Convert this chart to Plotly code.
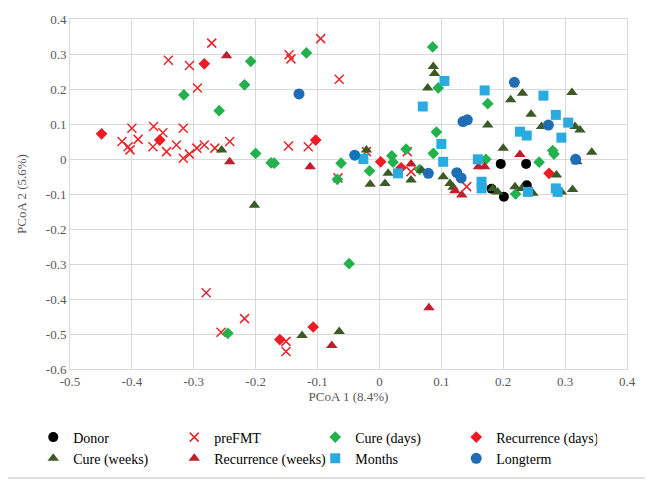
import plotly.graph_objects as go

# ---- data ----
donor_x = [0.196, 0.237, 0.181, 0.201, 0.238]
donor_y = [-0.014, -0.014, -0.085, -0.108, -0.075]

prefmt_x = [-0.400, -0.416, -0.406, -0.403, -0.390, -0.365, -0.350, -0.317, -0.366, -0.344,
            -0.328, -0.317, -0.307, -0.295, -0.283, -0.266, -0.242, -0.147, -0.115, -0.067,
            -0.065, -0.095, -0.271, -0.341, -0.307, -0.294, -0.146, -0.143, -0.021, 0.045,
            0.051, 0.141, -0.280, -0.218, -0.256, -0.151, -0.151]
prefmt_y = [0.088, 0.050, 0.035, 0.026, 0.056, 0.093, 0.075, 0.088, 0.035, 0.021,
            0.040, 0.002, 0.014, 0.031, 0.040, 0.031, 0.050, 0.037, 0.035, -0.054,
            0.228, 0.344, 0.331, 0.282, 0.267, 0.203, 0.298, 0.286, 0.021, 0.021,
            -0.036, -0.079, -0.382, -0.456, -0.495, -0.521, -0.550]

cure_days_x = [-0.208, -0.118, -0.218, -0.316, -0.259, -0.200, -0.175, -0.170, -0.062, -0.068,
               -0.049, -0.245, -0.016, 0.092, 0.087, 0.043, 0.020, 0.022, 0.065, 0.172,
               0.086, 0.095, 0.175, 0.258, 0.280, 0.282, 0.220]
cure_days_y = [0.279, 0.303, 0.212, 0.183, 0.138, 0.016, -0.011, -0.012, -0.012, -0.058,
               -0.299, -0.498, -0.034, 0.077, 0.016, 0.028, 0.009, -0.009, -0.030, -0.001,
               0.320, 0.203, 0.158, -0.009, 0.024, 0.014, -0.100]

rec_days_x = [-0.449, -0.355, -0.283, -0.103, 0.002, 0.035, -0.161, -0.107, 0.274]
rec_days_y = [0.072, 0.054, 0.272, 0.054, -0.008, -0.025, -0.516, -0.480, -0.041]

cure_weeks_x = [-0.255, -0.202, -0.125, -0.065, -0.021, -0.015, 0.009, 0.014, 0.051, 0.068,
                0.103, 0.114, 0.119, 0.087, 0.089, 0.078, 0.175, 0.200, 0.231, 0.212,
                0.245, 0.262, 0.311, 0.316, 0.324, 0.343, 0.286, 0.312, 0.319, 0.183,
                0.191, 0.219, 0.230, 0.248, 0.294]
cure_weeks_y = [0.026, -0.132, -0.504, -0.493, 0.026, -0.072, -0.070, -0.041, -0.060, -0.032,
                -0.051, -0.070, -0.081, 0.264, 0.244, 0.203, 0.097, 0.031, 0.188, 0.169,
                0.128, 0.093, 0.190, 0.093, 0.083, 0.019, -0.046, -0.087, -0.008, -0.084,
                -0.094, -0.079, -0.084, -0.098, -0.094]

rec_weeks_x = [-0.247, -0.242, -0.112, -0.077, 0.051, 0.122, 0.133, 0.160, 0.170, 0.227, 0.080]
rec_weeks_y = [0.295, -0.008, -0.022, -0.533, -0.014, -0.091, -0.103, -0.022, -0.022, 0.013, -0.425]

months_x = [0.105, 0.070, 0.170, 0.265, 0.285, 0.305, 0.227, 0.238, 0.294, 0.100,
            0.103, -0.026, 0.030, 0.159, 0.165, 0.165, 0.240, 0.285, 0.288]
months_y = [0.223, 0.150, 0.196, 0.181, 0.126, 0.104, 0.078, 0.067, 0.061, 0.043,
            -0.008, 0.000, -0.041, -0.001, -0.065, -0.084, -0.094, -0.084, -0.094]

longterm_x = [-0.130, -0.040, 0.079, 0.125, 0.132, 0.135, 0.142, 0.218, 0.273, 0.317]
longterm_y = [0.186, 0.011, -0.041, -0.039, -0.054, 0.107, 0.112, 0.219, 0.097, -0.001]

x_ticks = [-0.5, -0.4, -0.3, -0.2, -0.1, 0, 0.1, 0.2, 0.3, 0.4]
x_labels = ["-0.5", "-0.4", "-0.3", "-0.2", "-0.1", "0", "0.1", "0.2", "0.3", "0.4"]
y_ticks = [0.4, 0.3, 0.2, 0.1, 0, -0.1, -0.2, -0.3, -0.4, -0.5, -0.6]
y_labels = ["0.4", "0.3", "0.2", "0.1", "0", "-0.1", "-0.2", "-0.3", "-0.4", "-0.5", "-0.6"]

series = [
    ("Donor", donor_x, donor_y, "circle", "#000000", 10),
    ("preFMT", prefmt_x, prefmt_y, "x-thin", "#E8262B", 9),
    ("Cure (days)", cure_days_x, cure_days_y, "diamond", "#23B14D", 9),
    ("Recurrence (days)", rec_days_x, rec_days_y, "diamond", "#ED1C24", 9),
    ("Cure (weeks)", cure_weeks_x, cure_weeks_y, "triangle-up", "#3B5A26", 10),
    ("Recurrence (weeks)", rec_weeks_x, rec_weeks_y, "triangle-up", "#BE1E2D", 10),
    ("Months", months_x, months_y, "square", "#29ABE2", 10),
    ("Longterm", longterm_x, longterm_y, "circle", "#1F6DB5", 11),
]

fig = go.Figure()
for name, xs, ys, sym, col, sz in series:
    if sym == "x-thin":
        marker = dict(symbol=sym, size=sz, color=col, line=dict(color=col, width=1.5))
    else:
        marker = dict(symbol=sym, size=sz, color=col, line=dict(width=0))
    fig.add_trace(go.Scatter(x=xs, y=ys, mode="markers", name=name, marker=marker))

font = "Times New Roman"
grid = "#D9D9D9"
tick_font = dict(family=font, size=13, color="#595959")
W, H = 645, 474
L, R, T, B = 62, 26, 11, 113
pw, ph = W - L - R, H - T - B
fig.update_layout(
    width=W, height=H,
    margin=dict(l=L, r=R, t=T, b=B, autoexpand=False),
    paper_bgcolor="white", plot_bgcolor="white",
    font=dict(family=font, size=13, color="#595959"),
    xaxis=dict(range=[-0.5, 0.4], tickvals=x_ticks, ticktext=x_labels,
               showgrid=True, gridcolor=grid, gridwidth=1, zeroline=False,
               showline=True, mirror=True, linecolor=grid, linewidth=1,
               ticks="", tickfont=tick_font, automargin=False,
               title=dict(text="PCoA 1 (8.4%)", font=tick_font, standoff=4)),
    yaxis=dict(range=[-0.6, 0.4], tickvals=y_ticks, ticktext=y_labels,
               showgrid=True, gridcolor=grid, gridwidth=1, zeroline=False,
               showline=True, mirror=True, linecolor=grid, linewidth=1,
               ticks="", tickfont=tick_font, automargin=False,
               title=dict(text="PCoA 2 (5.6%)", font=tick_font, standoff=16)),
    legend=dict(orientation="h", x=-0.066, y=-0.15, xanchor="left", yanchor="top",
                entrywidth=96, entrywidthmode="pixels", itemwidth=30,
                font=dict(family=font, size=14, color="#000000"),
                tracegroupgap=0, bgcolor="rgba(0,0,0,0)"),
    shapes=[
        dict(type="line", xref="paper", yref="paper",
             x0=(W - 2 - L) / pw, x1=(W - 2 - L) / pw, y0=1 + T / ph, y1=-(H - 4 - T - ph) / ph,
             line=dict(color="#BFBFBF", width=1)),
        dict(type="line", xref="paper", yref="paper",
             x0=-L / pw, x1=(W - 2 - L) / pw, y0=-(H - 4 - T - ph) / ph, y1=-(H - 4 - T - ph) / ph,
             line=dict(color="#BFBFBF", width=1)),
    ],
)

fig.write_html("out.html")
